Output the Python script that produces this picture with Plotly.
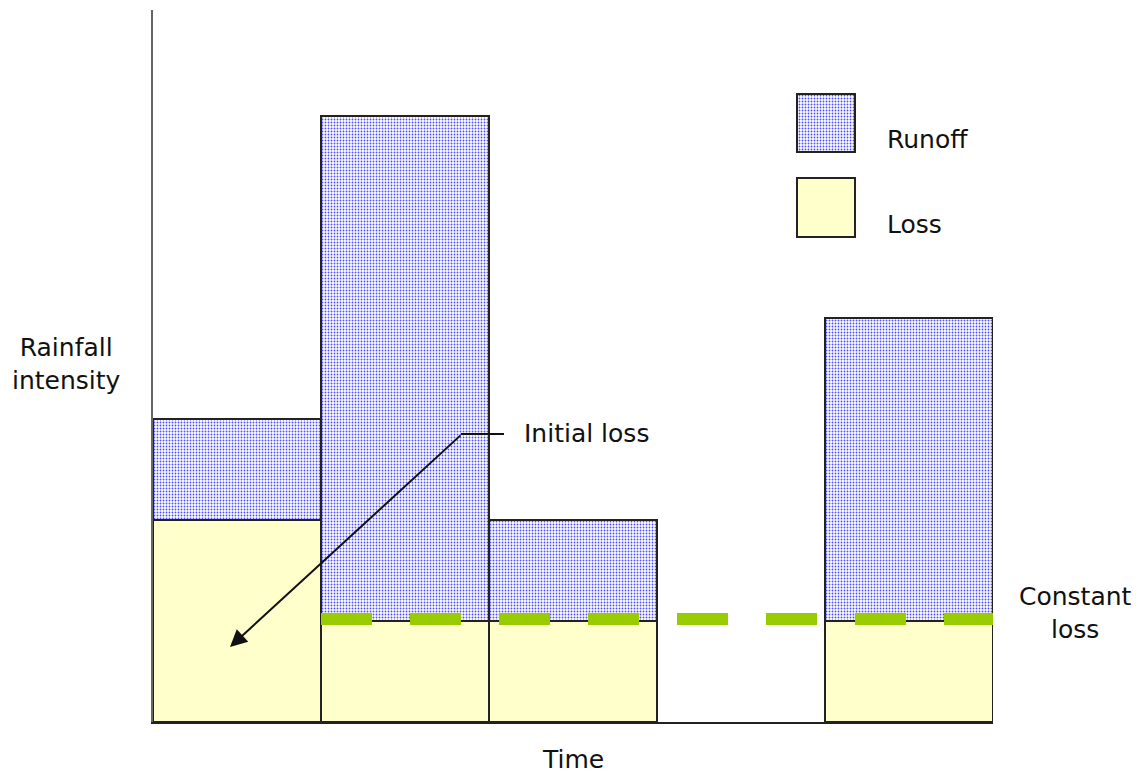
import plotly.graph_objects as go

# ---- data ----
periods = ["t1", "t2", "t3", "t4", "t5"]
period_pos = [0.5, 1.5, 2.5, 3.5, 4.5]
loss = [2.0, 1.0, 1.0, 0.0, 1.0]
runoff = [1.0, 5.0, 1.0, 0.0, 3.0]
constant_loss = 1.0
constant_loss_span = [1.0, 5.0]
legend_labels = ["Runoff", "Loss"]

# ---- styles ----
FONT = "DejaVu Sans"
LOSS_FILL = "#FFFFCC"
DOT_COLOR = "#4d4dff"
EDGE = "#222222"
GREEN = "#99CC00"

OFF = 8  # page body margin
W, H = 1124, 768
L, R, T, B = 145, 139, 2, 54
PW, PH = W - L - R, H - T - B
XMAX, YMAX = 5.0, PH / 101

def px_x(p):  # screen px -> data x
    return (p - OFF - L) / PW * XMAX

def px_y(p):  # screen px -> data y
    return (H - B - (p - OFF)) / PH * YMAX

def pp_x(p):  # screen px -> paper x
    return (p - OFF - L) / PW

def pp_y(p):
    return (H - B - (p - OFF)) / PH

fig = go.Figure()

bar_x = [x for x, l, r in zip(period_pos, loss, runoff) if l + r > 0]
bar_loss = [l for l, r in zip(loss, runoff) if l + r > 0]
bar_run = [r for l, r in zip(loss, runoff) if l + r > 0]

dots = dict(shape=".", fgcolor=DOT_COLOR, bgcolor="white",
            size=3, solidity=0.3, fillmode="replace")

fig.add_trace(go.Bar(
    x=bar_x, y=bar_loss, base=0, width=1.0,
    marker=dict(color=LOSS_FILL, line=dict(color=EDGE, width=2)),
    hoverinfo="skip", showlegend=False,
))
fig.add_trace(go.Bar(
    x=bar_x, y=bar_run, base=bar_loss, width=1.0,
    marker=dict(color="white", line=dict(color=EDGE, width=2), pattern=dots),
    hoverinfo="skip", showlegend=False,
))

# constant loss dashed line
fig.add_trace(go.Scatter(
    x=constant_loss_span, y=[constant_loss + 0.02] * 2, mode="lines",
    line=dict(color=GREEN, width=12, dash="51px,38px"),
    hoverinfo="skip", showlegend=False,
))

# legend swatches (drawn as bars)
sw_x0, sw_x1 = px_x(797), px_x(855)
sw_c, sw_w = (sw_x0 + sw_x1) / 2, sw_x1 - sw_x0
fig.add_trace(go.Bar(
    x=[sw_c], y=[px_y(94) - px_y(152)], base=[px_y(152)], width=[sw_w],
    marker=dict(color="white", line=dict(color=EDGE, width=2), pattern=dots),
    hoverinfo="skip", showlegend=False,
))
fig.add_trace(go.Bar(
    x=[sw_c], y=[px_y(178) - px_y(237)], base=[px_y(237)], width=[sw_w],
    marker=dict(color=LOSS_FILL, line=dict(color=EDGE, width=2)),
    hoverinfo="skip", showlegend=False,
))

tf = dict(family=FONT, size=25, color="#111111")

def label(px, py, text, anchor="center"):
    return dict(x=pp_x(px), y=pp_y(py), text=text, xref="paper", yref="paper",
                xanchor=anchor, yanchor="middle", showarrow=False, font=tf)

ann = [
    label(885, 140, legend_labels[0], "left"),
    label(885, 224, legend_labels[1], "left"),
    label(66, 364, "Rainfall<br>intensity"),
    label(573, 759, "Time"),
    label(1075, 613, "Constant<br>loss"),
    label(522, 433, "Initial loss", "left"),
    dict(x=px_x(230), y=px_y(647), ax=px_x(462), ay=px_y(434),
         xref="x", yref="y", axref="x", ayref="y", text="",
         showarrow=True, arrowhead=2, arrowsize=1.7, arrowwidth=2,
         arrowcolor="#111111", standoff=0, startstandoff=0),
]

fig.add_shape(type="line", x0=px_x(461), x1=px_x(504), y0=px_y(434), y1=px_y(434),
              xref="x", yref="y", line=dict(color="#111111", width=2))

fig.update_layout(
    width=W, height=H,
    margin=dict(l=L, r=R, t=T, b=B),
    barmode="overlay",
    plot_bgcolor="white", paper_bgcolor="white",
    annotations=ann,
    xaxis=dict(range=[0, XMAX], showgrid=False, zeroline=False, showticklabels=False,
               ticks="", showline=True, linecolor=EDGE, linewidth=2),
    yaxis=dict(range=[0, YMAX], showgrid=False, zeroline=False, showticklabels=False,
               ticks="", showline=True, linecolor="#666666", linewidth=2),
    hovermode=False,
)

fig.write_html("out.html")
